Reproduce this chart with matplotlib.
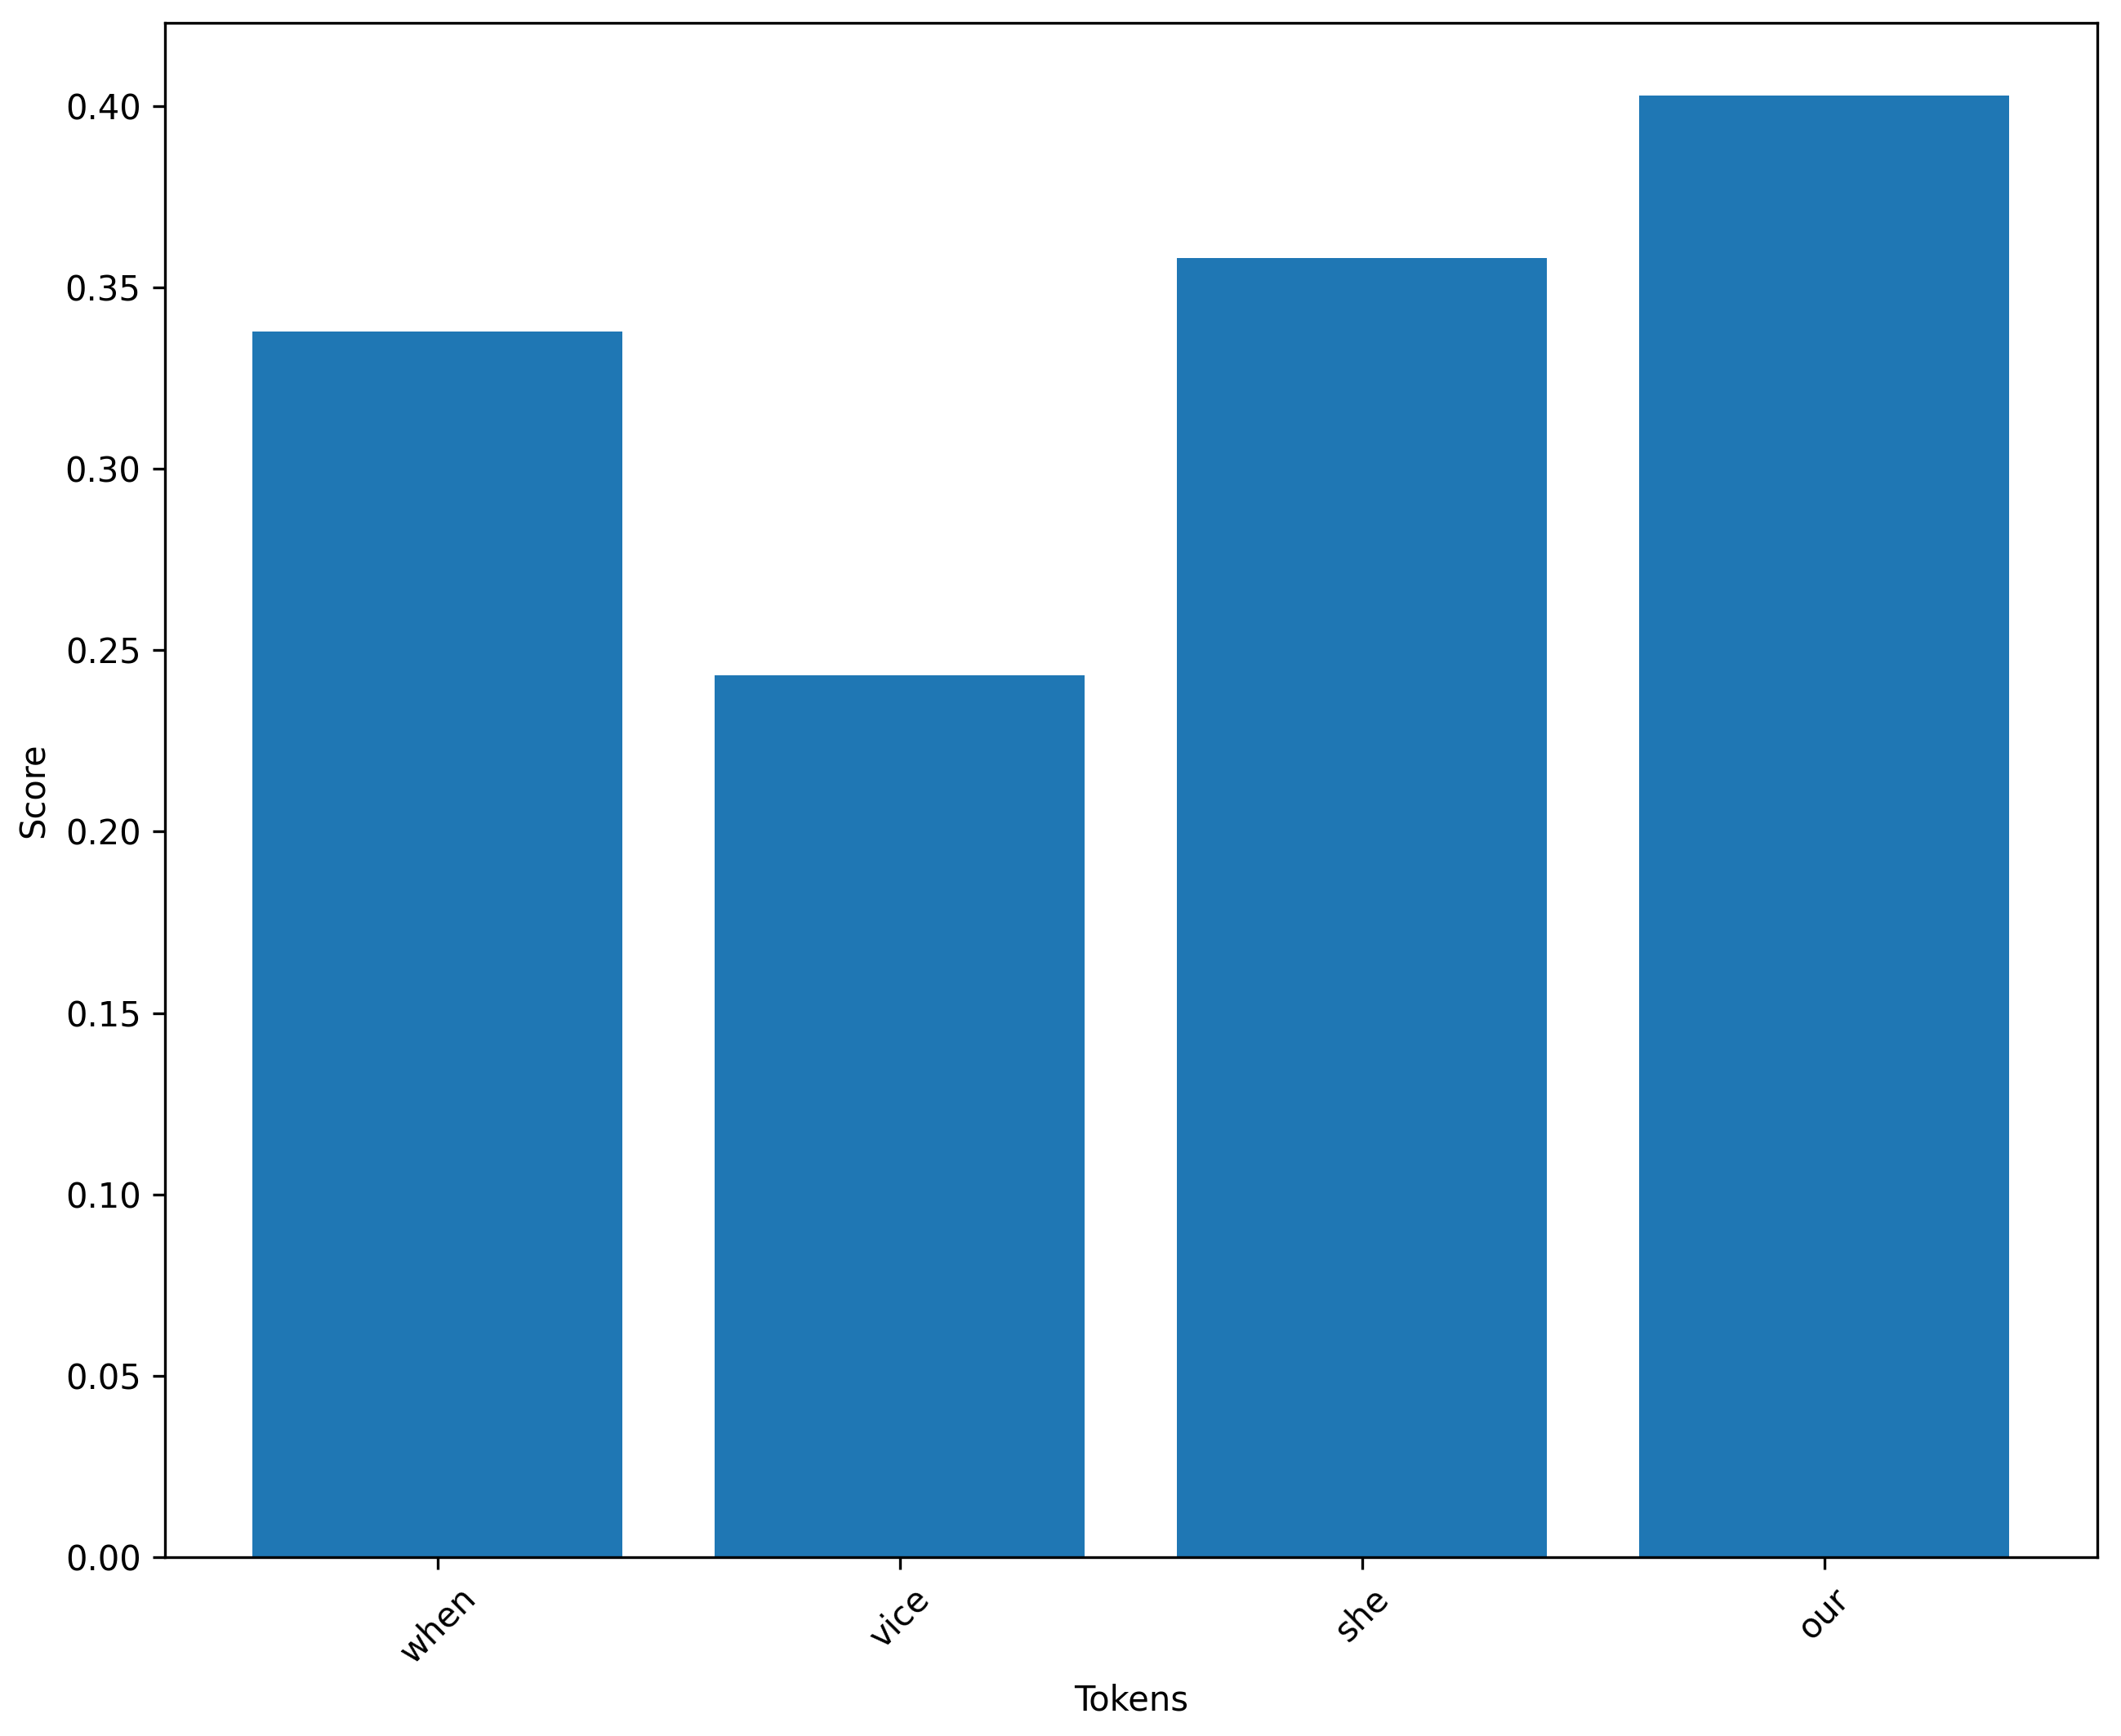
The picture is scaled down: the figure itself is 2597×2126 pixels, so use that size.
import numpy as np
import matplotlib
matplotlib.use("Agg")
import matplotlib.pyplot as plt

tokens = ["when", "vice", "she", "our"]
scores = [0.3379, 0.2432, 0.3581, 0.4028]

W, H = 2597, 2126
DPI = 300
fig = plt.figure(figsize=(W / DPI, H / DPI), dpi=DPI)
ax = fig.add_axes([201.7 / W, 1 - 1907 / H, (2567.7 - 201.7) / W, (1907 - 28) / H])

ax.bar(tokens, scores, color="#1f77b4")
ax.set_xlabel("Tokens")
ax.set_ylabel("Score")
plt.setp(ax.get_xticklabels(), rotation=45)

fig.savefig("out.png", dpi=DPI)
